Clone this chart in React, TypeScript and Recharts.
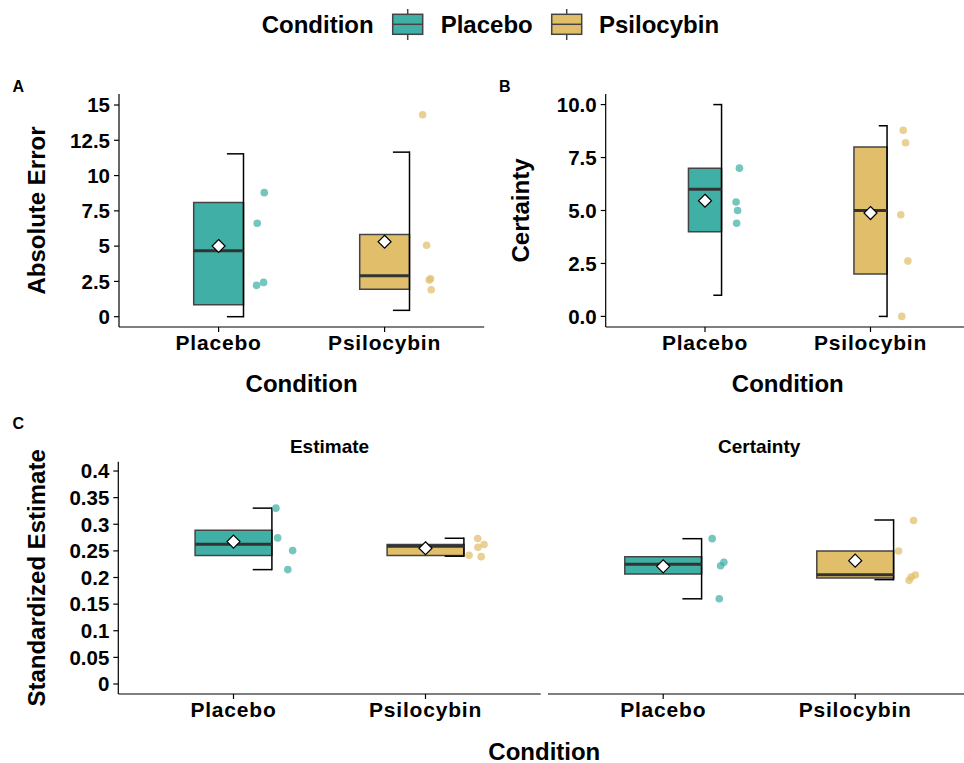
import React from "react";
import {
  ScatterChart,
  Scatter,
  XAxis,
  YAxis,
  ReferenceArea,
  ReferenceLine,
} from "recharts";

// ---------- data ----------
const conditions = ["Placebo", "Psilocybin"];
const conditionColors = ["#40B0A6", "#E1BE6A"];

// Panel A: Absolute Error
const errLowerWhisker = [0, 0.45];
const errQ1 = [0.85, 1.95];
const errMedian = [4.68, 2.9];
const errQ3 = [8.1, 5.82];
const errUpperWhisker = [11.54, 11.66];
const errMean = [5.01, 5.31];
const errPlacebo = [8.79, 6.62, 2.22, 2.43];
const errPlaceboJitter = [0.275, 0.233, 0.229, 0.271];
const errPsilocybin = [14.31, 5.06, 2.69, 2.6, 1.91];
const errPsilocybinJitter = [0.229, 0.253, 0.277, 0.269, 0.281];
const errTicks = [0, 2.5, 5, 7.5, 10, 12.5, 15];

// Panel B: Certainty
const certLowerWhisker = [1.0, 0];
const certQ1 = [4.0, 2.0];
const certMedian = [6.0, 5.0];
const certQ3 = [7.0, 8.0];
const certUpperWhisker = [10.0, 9.0];
const certMean = [5.46, 4.88];
const certPlacebo = [7.0, 5.4, 5.0, 4.4];
const certPlaceboJitter = [0.208, 0.188, 0.197, 0.191];
const certPsilocybin = [8.79, 8.2, 4.8, 2.61, 0];
const certPsilocybinJitter = [0.198, 0.212, 0.183, 0.226, 0.189];
const certTicks = [0, 2.5, 5, 7.5, 10];

// Panel C, facet "Estimate": standardized estimate
const estLowerWhisker = [0.2148, 0.24];
const estQ1 = [0.2411, 0.2411];
const estMedian = [0.2625, 0.2587];
const estQ3 = [0.2889, 0.2619];
const estUpperWhisker = [0.3303, 0.2737];
const estMean = [0.2675, 0.2549];
const estPlacebo = [0.3303, 0.2744, 0.2505, 0.2148];
const estPlaceboJitter = [0.221, 0.23, 0.308, 0.283];
const estPsilocybin = [0.2732, 0.2619, 0.2568, 0.2418, 0.2392];
const estPsilocybinJitter = [0.272, 0.305, 0.273, 0.227, 0.29];

// Panel C, facet "Certainty": standardized estimate
const scLowerWhisker = [0.16, 0.196];
const scQ1 = [0.2066, 0.199];
const scMedian = [0.2248, 0.2053];
const scQ3 = [0.239, 0.2498];
const scUpperWhisker = [0.2729, 0.308];
const scMean = [0.221, 0.2316];
const scPlacebo = [0.273, 0.2285, 0.222, 0.16];
const scPlaceboJitter = [0.255, 0.316, 0.299, 0.292];
const scPsilocybin = [0.307, 0.2498, 0.2047, 0.201, 0.1947];
const scPsilocybinJitter = [0.304, 0.226, 0.313, 0.292, 0.281];
const stdTicks = [0, 0.05, 0.1, 0.15, 0.2, 0.25, 0.3, 0.35, 0.4];

// ---------- drawing ----------
const FONT = "'Liberation Sans', Arial, Helvetica, sans-serif";
const BOX_STROKE = "#444";

type Stats = {
  lo: number[];
  q1: number[];
  med: number[];
  q3: number[];
  hi: number[];
  mean: number[];
  points: number[][];
  jitter: number[][];
};

type PanelProps = {
  stats: Stats;
  width: number;
  height: number;
  margin: { top: number; right: number; bottom: number; left: number };
  yAxisWidth: number;
  hideY?: boolean;
  yDomain: [number, number];
  yTicks: number[];
  yFormat: (v: number) => string;
  boxHalf: number;
  capLen: number;
};

const Diamond = (p: any) => {
  const { cx, cy } = p;
  if (cx == null || cy == null) return <g />;
  const r = 6.5;
  return (
    <path
      d={`M${cx},${cy - r}L${cx + r},${cy}L${cx},${cy + r}L${cx - r},${cy}Z`}
      fill="#fff"
      stroke="#000"
      strokeWidth={1.2}
    />
  );
};

const makeDot = (color: string) => (p: any) => {
  const { cx, cy } = p;
  if (cx == null || cy == null) return <g />;
  return <circle cx={cx} cy={cy} r={3.8} fill={color} fillOpacity={0.72} />;
};

function BoxPanel(props: PanelProps) {
  const { stats, boxHalf, capLen } = props;
  const yTickStyle = { fill: "#000", fontSize: 20.5, fontWeight: 700, fontFamily: FONT };
  const xTickStyle = {
    fill: "#000",
    fontSize: 21,
    fontWeight: 700,
    fontFamily: FONT,
    letterSpacing: 0.8,
  };
  const meanData = conditions.map((_, i) => ({ x: i + 1, y: stats.mean[i] }));
  return (
    <ScatterChart width={props.width} height={props.height} margin={props.margin}>
      <XAxis
        type="number"
        dataKey="x"
        domain={[0.4, 2.6]}
        ticks={[1, 2]}
        tickFormatter={(v: number) => conditions[Math.round(v) - 1]}
        allowDataOverflow
        interval={0}
        height={40}
        tickSize={5}
        tickMargin={3}
        axisLine={{ stroke: "#000", strokeWidth: 1.2 }}
        tickLine={{ stroke: "#000", strokeWidth: 1.2 }}
        tick={xTickStyle}
      />
      <YAxis
        type="number"
        dataKey="y"
        domain={props.yDomain}
        ticks={props.yTicks}
        tickFormatter={props.yFormat}
        allowDataOverflow
        interval={0}
        width={props.yAxisWidth}
        hide={props.hideY}
        tickSize={5}
        tickMargin={4}
        axisLine={{ stroke: "#000", strokeWidth: 1.2 }}
        tickLine={{ stroke: "#000", strokeWidth: 1.2 }}
        tick={yTickStyle}
      />
      {conditions.map((c, i) => {
        const x = i + 1;
        const right = x + boxHalf;
        return (
          <React.Fragment key={c}>
            <ReferenceArea
              x1={x - boxHalf}
              x2={right}
              y1={stats.q1[i]}
              y2={stats.q3[i]}
              fill={conditionColors[i]}
              fillOpacity={1}
              stroke={BOX_STROKE}
              strokeWidth={1.5}
              ifOverflow="visible"
            />
            <ReferenceLine
              segment={[
                { x: right, y: stats.lo[i] },
                { x: right, y: stats.hi[i] },
              ]}
              stroke="#000"
              strokeWidth={1.5}
              strokeLinecap="square"
              ifOverflow="visible"
            />
            <ReferenceLine
              segment={[
                { x: right - capLen, y: stats.hi[i] },
                { x: right, y: stats.hi[i] },
              ]}
              stroke="#000"
              strokeWidth={1.5}
              ifOverflow="visible"
            />
            <ReferenceLine
              segment={[
                { x: right - capLen, y: stats.lo[i] },
                { x: right, y: stats.lo[i] },
              ]}
              stroke="#000"
              strokeWidth={1.5}
              ifOverflow="visible"
            />
            <ReferenceLine
              segment={[
                { x: x - boxHalf, y: stats.med[i] },
                { x: right, y: stats.med[i] },
              ]}
              stroke="#333"
              strokeWidth={3}
              ifOverflow="visible"
            />
          </React.Fragment>
        );
      })}
      {conditions.map((c, i) => (
        <Scatter
          key={"pts-" + c}
          name={c}
          data={stats.points[i].map((v, k) => ({ x: i + 1 + stats.jitter[i][k], y: v }))}
          dataKey="y"
          shape={makeDot(conditionColors[i])}
          isAnimationActive={false}
        />
      ))}
      <Scatter
        name="mean"
        data={meanData}
        dataKey="y"
        shape={Diamond}
        isAnimationActive={false}
      />
    </ScatterChart>
  );
}

const statsA: Stats = {
  lo: errLowerWhisker, q1: errQ1, med: errMedian, q3: errQ3, hi: errUpperWhisker, mean: errMean,
  points: [errPlacebo, errPsilocybin], jitter: [errPlaceboJitter, errPsilocybinJitter],
};
const statsB: Stats = {
  lo: certLowerWhisker, q1: certQ1, med: certMedian, q3: certQ3, hi: certUpperWhisker, mean: certMean,
  points: [certPlacebo, certPsilocybin], jitter: [certPlaceboJitter, certPsilocybinJitter],
};
const statsCE: Stats = {
  lo: estLowerWhisker, q1: estQ1, med: estMedian, q3: estQ3, hi: estUpperWhisker, mean: estMean,
  points: [estPlacebo, estPsilocybin], jitter: [estPlaceboJitter, estPsilocybinJitter],
};
const statsCC: Stats = {
  lo: scLowerWhisker, q1: scQ1, med: scMedian, q3: scQ3, hi: scUpperWhisker, mean: scMean,
  points: [scPlacebo, scPsilocybin], jitter: [scPlaceboJitter, scPsilocybinJitter],
};

const fmtPlain = (v: number) => String(+v.toFixed(2));
const fmtOne = (v: number) => v.toFixed(1);

function LegendKey({ x, color }: { x: number; color: string }) {
  const w = 30;
  return (
    <g>
      <line x1={x + w / 2} x2={x + w / 2} y1={9} y2={40} stroke={BOX_STROKE} strokeWidth={1.5} />
      <rect x={x} y={14.3} width={w} height={20} fill={color} stroke={BOX_STROKE} strokeWidth={1.5} />
      <line x1={x} x2={x + w} y1={24.3} y2={24.3} stroke={BOX_STROKE} strokeWidth={1.5} />
    </g>
  );
}

export default function App() {
  const titleStyle = { fontFamily: FONT, fontWeight: 700, fill: "#000" } as const;
  return (
    <div
      style={{
        position: "absolute",
        left: 0,
        top: 0,
        width: 964,
        height: 763,
        overflow: "hidden",
        background: "#fff",
      }}
    >
      <div style={{ position: "absolute", left: 0, top: 80 }}>
        <BoxPanel
          stats={statsA}
          width={500}
          height={300}
          margin={{ top: 14, right: 15.8, bottom: 13, left: 0 }}
          yAxisWidth={119}
          yDomain={[-0.73, 15.78]}
          yTicks={errTicks}
          yFormat={fmtPlain}
          boxHalf={0.15}
          capLen={0.1}
        />
      </div>
      <div style={{ position: "absolute", left: 480, top: 80 }}>
        <BoxPanel
          stats={statsB}
          width={500}
          height={300}
          margin={{ top: 14, right: 10.2, bottom: 13, left: 0 }}
          yAxisWidth={125.7}
          yDomain={[-0.5, 10.5]}
          yTicks={certTicks}
          yFormat={fmtOne}
          boxHalf={0.1}
          capLen={0.05}
        />
      </div>
      <div style={{ position: "absolute", left: 0, top: 420 }}>
        <BoxPanel
          stats={statsCE}
          width={560}
          height={320}
          margin={{ top: 41.7, right: 19.3, bottom: 6, left: 0 }}
          yAxisWidth={118.3}
          yDomain={[-0.0188, 0.4175]}
          yTicks={stdTicks}
          yFormat={fmtPlain}
          boxHalf={0.2}
          capLen={0.1}
        />
      </div>
      <div style={{ position: "absolute", left: 540, top: 420 }}>
        <BoxPanel
          stats={statsCC}
          width={440}
          height={320}
          margin={{ top: 41.7, right: 9.6, bottom: 6, left: 8 }}
          yAxisWidth={0}
          hideY
          yDomain={[-0.0188, 0.4175]}
          yTicks={stdTicks}
          yFormat={fmtPlain}
          boxHalf={0.2}
          capLen={0.1}
        />
      </div>
      <svg
        width={964}
        height={763}
        style={{ position: "absolute", left: 0, top: 0, pointerEvents: "none" }}
      >
        {/* legend */}
        <text x={261.7} y={33} fontSize={24} {...titleStyle}>Condition</text>
        <LegendKey x={392.7} color={conditionColors[0]} />
        <text x={440.7} y={33} fontSize={24} {...titleStyle}>{conditions[0]}</text>
        <LegendKey x={551.7} color={conditionColors[1]} />
        <text x={599} y={33} fontSize={24} {...titleStyle}>{conditions[1]}</text>

        {/* panel tags */}
        <text x={12.5} y={92} fontSize={16} {...titleStyle}>A</text>
        <text x={499} y={92} fontSize={16} {...titleStyle}>B</text>
        <text x={12.5} y={428.5} fontSize={16} {...titleStyle}>C</text>

        {/* axis titles */}
        <text x={45} y={210.5} fontSize={24} textAnchor="middle" transform="rotate(-90 45 210.5)" {...titleStyle}>Absolute Error</text>
        <text x={301.6} y={392} fontSize={24} textAnchor="middle" {...titleStyle}>Condition</text>
        <text x={529} y={210.5} fontSize={24} textAnchor="middle" transform="rotate(-90 529 210.5)" {...titleStyle}>Certainty</text>
        <text x={787.8} y={392} fontSize={24} textAnchor="middle" {...titleStyle}>Condition</text>
        <text x={45} y={577.9} fontSize={24} textAnchor="middle" transform="rotate(-90 45 577.9)" {...titleStyle}>Standardized Estimate</text>
        <text x={544.3} y={759.5} fontSize={24} textAnchor="middle" {...titleStyle}>Condition</text>

        {/* facet strips */}
        <text x={329.5} y={453} fontSize={19} textAnchor="middle" {...titleStyle}>Estimate</text>
        <text x={759.2} y={453} fontSize={19} textAnchor="middle" {...titleStyle}>Certainty</text>
      </svg>
    </div>
  );
}
